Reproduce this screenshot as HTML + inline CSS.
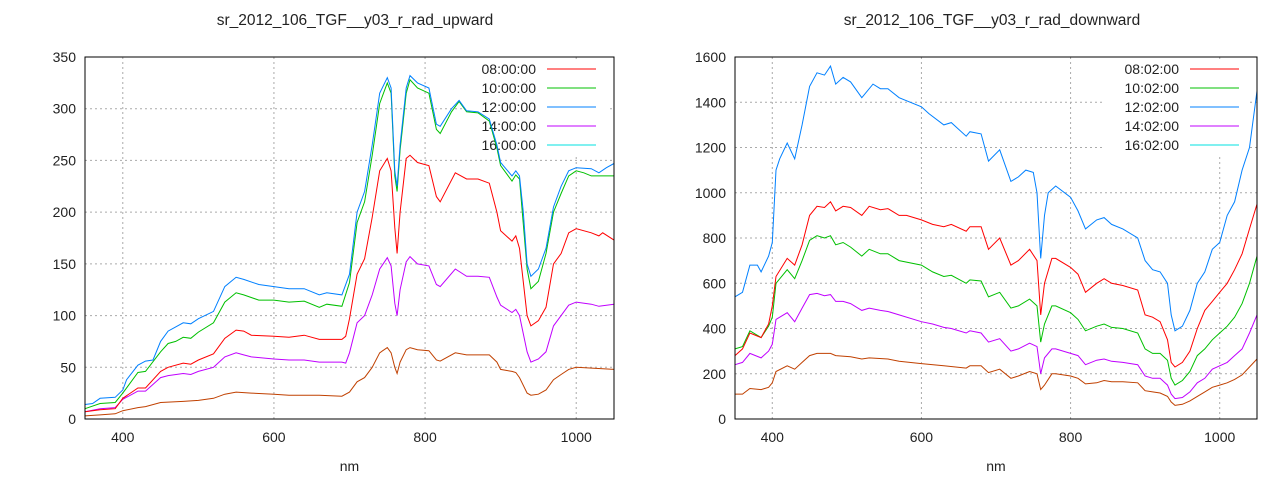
<!DOCTYPE html>
<html><head><meta charset="utf-8"><style>
html,body{margin:0;padding:0;background:#fff;}
svg text{font-family:"Liberation Sans",sans-serif;font-size:14px;fill:#222;}
svg text.t{font-size:15.5px;}
</style></head><body>
<svg id="s" width="1280" height="480" xmlns="http://www.w3.org/2000/svg"></svg>
<script>
const S=document.getElementById('s');let h='';
function plot(o){
 const X=v=>o.x0+(v-350)/700*(o.x1-o.x0), Y=v=>o.y1-v/o.ymax*(o.y1-o.y0);
 [400,600,800,1000].forEach(t=>{h+=`<line x1="${X(t)}" x2="${X(t)}" y1="${o.y0}" y2="${o.y1}" stroke="#aaa" stroke-dasharray="2,3"/>`;
  h+=`<text x="${X(t)}" y="${o.y1+23}" text-anchor="middle">${t}</text>`;});
 for(let v=0;v<=o.ymax;v+=o.ystep){h+=`<line x1="${o.x0}" x2="${o.x1}" y1="${Y(v)}" y2="${Y(v)}" stroke="#aaa" stroke-dasharray="2,3"/>`;
  h+=`<text x="${o.x0-9}" y="${Y(v)+5}" text-anchor="end">${v}</text>`;}
 h+=`<rect x="${o.x1-152}" y="${o.y0+3}" width="145" height="96" fill="#fff"/>`;
 const cols=['#ff0000','#00c000','#0080ff','#c000ff','#00e0e0'];
 o.leg.forEach((l,i)=>{const y=o.y0+12+i*19;h+=`<text x="${o.x1-78}" y="${y+5}" text-anchor="end">${l}</text><line x1="${o.x1-67}" x2="${o.x1-18}" y1="${y}" y2="${y}" stroke="${cols[i]}"/>`;});
 o.series.forEach(([c,d])=>{let p=[];for(let i=0;i<d.length;i+=2)p.push(X(d[i]).toFixed(1)+','+Y(d[i+1]).toFixed(1));
  h+=`<polyline points="${p.join(' ')}" fill="none" stroke="${c}" stroke-width="1"/>`;});
 h+=`<rect x="${o.x0}" y="${o.y0}" width="${o.x1-o.x0}" height="${o.y1-o.y0}" fill="none" stroke="#000"/>`;
 h+=`<text class="t" x="${o.tx}" y="25" text-anchor="middle">${o.title}</text>`;
 h+=`<text x="${(o.x0+o.x1)/2}" y="471" text-anchor="middle">nm</text>`;
}
plot({x0:85,x1:614,y0:57,y1:419,ymax:350,ystep:50,tx:355,title:'sr_2012_106_TGF__y03_r_rad_upward',
leg:['08:00:00','10:00:00','12:00:00','14:00:00','16:00:00'],series:[
['#c04000',[350,3,370,4,390,5,400,8,420,11,430,12,450,16,480,17,500,18,520,20,535,24,550,26,570,25,600,24,620,23,640,23,660,23,690,22,700,26,710,36,720,40,730,50,740,64,750,69,755,64,760,50,763,44,767,55,775,67,780,69,790,67,805,66,815,57,820,56,840,64,855,62,870,62,885,62,895,55,900,48,915,46,920,45,925,40,935,25,940,23,950,24,960,28,970,38,980,43,990,48,1000,50,1050,48]],
['#c000ff',[350,7,370,10,390,11,400,19,420,27,430,27,450,40,460,42,480,44,490,43,500,46,520,50,535,60,550,64,560,62,570,60,600,58,620,57,640,57,660,55,690,55,695,54,700,64,710,93,720,100,730,120,740,145,750,156,755,148,760,112,763,100,767,125,775,152,780,157,790,150,805,148,815,130,820,128,840,145,855,138,870,138,885,137,895,118,900,110,915,103,920,106,925,100,935,65,940,55,950,58,960,65,970,90,980,100,990,110,1000,113,1020,111,1030,109,1050,111]],
['#ff0000',[350,7,370,9,390,10,400,20,420,30,430,30,450,46,460,50,480,54,490,53,500,57,520,63,535,78,550,86,560,85,570,81,600,80,620,79,640,81,660,77,690,77,695,80,700,97,710,140,720,155,730,195,740,240,750,252,755,240,760,185,763,160,767,200,775,252,780,255,790,248,805,245,815,215,820,210,840,238,855,232,870,232,885,228,895,200,900,182,915,172,920,177,925,165,935,100,940,90,950,95,960,108,970,150,980,160,990,180,1000,184,1020,180,1030,177,1035,180,1050,173]],
['#00c000',[350,10,370,15,390,16,400,25,420,45,430,46,450,65,460,73,470,75,480,79,490,78,500,84,520,93,535,113,550,122,560,120,580,115,600,115,620,113,640,114,660,108,670,111,690,109,700,132,710,190,720,210,730,255,740,305,750,325,755,315,760,235,763,220,767,260,775,315,780,328,790,320,805,315,815,280,820,276,835,297,845,307,855,297,870,296,885,288,895,262,900,245,915,230,920,236,925,232,935,145,940,126,950,133,960,160,970,200,980,218,990,235,1000,240,1010,238,1020,235,1050,235]],
['#0080ff',[350,14,360,15,370,20,390,21,400,28,405,38,420,52,430,56,440,57,450,75,460,85,470,89,480,93,490,92,500,97,520,104,535,128,550,137,560,135,580,130,600,128,620,126,640,126,660,120,670,122,690,120,700,140,710,200,720,220,730,265,740,315,750,330,755,320,760,240,763,225,767,265,775,320,780,332,790,325,805,320,815,285,820,283,835,300,845,308,855,298,870,297,885,290,895,265,900,248,915,235,920,240,925,235,930,200,935,150,940,138,950,145,960,165,970,205,980,225,990,240,1000,243,1020,242,1030,238,1040,243,1050,247]]]});
plot({x0:735,x1:1257,y0:57,y1:419,ymax:1600,ystep:200,tx:992,title:'sr_2012_106_TGF__y03_r_rad_downward',
leg:['08:02:00','10:02:00','12:02:00','14:02:00','16:02:00'],series:[
['#c04000',[350,110,360,110,370,135,385,130,395,140,400,160,405,210,420,235,430,220,440,250,450,280,460,290,478,290,485,280,505,275,520,265,530,270,555,265,570,255,600,245,630,235,660,225,665,235,680,235,690,205,705,220,720,180,730,190,745,210,755,200,760,130,765,150,775,200,780,200,800,190,810,180,820,155,835,160,845,170,855,165,870,165,890,160,900,125,910,120,920,115,930,100,935,75,940,60,950,65,960,80,970,100,980,120,990,140,1000,150,1010,160,1020,175,1030,195,1040,230,1050,265]],
['#c000ff',[350,240,360,250,370,290,385,270,395,300,400,330,405,440,420,470,430,430,440,490,450,550,460,555,470,545,478,550,485,520,495,520,505,510,520,480,530,490,545,480,555,475,570,460,600,430,615,420,630,405,640,400,660,380,665,390,680,380,690,340,705,355,720,300,730,310,745,335,755,320,760,200,765,270,775,310,780,310,800,290,810,280,820,240,835,260,845,265,855,255,870,250,890,240,900,190,910,180,920,180,930,150,935,110,940,90,950,95,960,120,970,160,980,180,990,220,1000,235,1010,250,1020,280,1030,310,1040,380,1050,460]],
['#00c000',[350,310,360,320,370,390,385,360,395,410,400,450,405,600,420,660,430,620,440,700,450,790,460,810,470,800,478,810,485,770,495,780,505,760,520,720,530,750,545,730,555,730,570,700,600,680,615,650,630,630,640,635,660,600,665,615,680,610,690,540,705,560,720,490,730,500,745,530,755,500,760,340,765,420,775,500,780,500,800,470,810,440,820,390,835,410,845,420,855,405,870,400,890,380,900,310,910,290,920,290,930,260,935,180,940,150,950,170,960,210,970,280,980,310,990,350,1000,380,1010,410,1020,450,1030,510,1040,600,1050,720]],
['#ff0000',[350,280,360,310,370,380,385,360,395,420,400,500,405,630,420,710,430,680,440,770,450,900,460,940,470,935,478,960,485,920,495,940,505,935,520,900,530,940,545,925,555,930,570,900,580,900,600,880,615,860,630,850,640,860,660,830,665,850,680,850,690,750,705,800,720,680,730,700,745,750,755,700,760,460,765,600,775,710,780,710,800,670,810,640,820,560,835,600,845,620,855,600,870,590,890,570,900,460,910,450,920,430,930,350,935,250,940,230,950,250,960,300,970,400,980,480,990,520,1000,560,1010,600,1020,660,1030,730,1040,840,1050,950]],
['#0080ff',[350,540,360,560,370,680,380,680,385,650,395,720,400,780,405,1100,410,1150,420,1220,430,1150,440,1300,450,1470,460,1530,470,1520,478,1560,485,1480,495,1510,505,1490,520,1420,535,1480,545,1460,555,1460,570,1420,600,1380,610,1350,630,1300,640,1310,660,1250,665,1270,680,1260,690,1140,705,1190,720,1050,730,1070,740,1100,750,1090,755,1000,760,710,765,900,770,1000,780,1030,800,980,810,920,820,840,835,880,845,890,855,860,870,840,890,800,900,700,910,660,920,650,930,600,935,460,940,390,950,410,960,480,970,600,980,650,990,750,1000,780,1010,900,1020,960,1030,1100,1040,1200,1050,1450]]]});
S.innerHTML=h;
</script>
</body></html>
